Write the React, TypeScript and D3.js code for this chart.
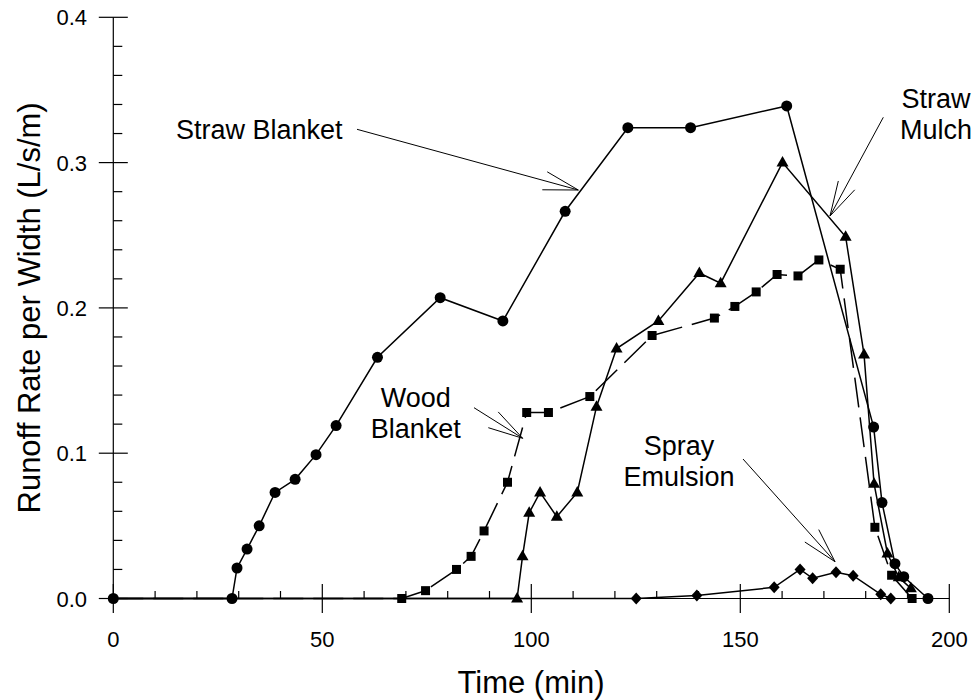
import React from "react";
import * as d3 from "d3";

// ---------- data ----------
const strawBlanketT = [0, 28.4, 29.6, 32, 34.9, 38.7, 43.5, 48.5, 53.3, 63.2, 78.2, 93.2, 108.1, 123.1, 138.1, 161.1, 181.9, 183.9, 187.0, 189.1, 194.9];
const strawBlanketY = [0, 0, 0.021, 0.034, 0.05, 0.073, 0.082, 0.099, 0.119, 0.166, 0.207, 0.191, 0.2665, 0.324, 0.324, 0.339, 0.118, 0.066, 0.024, 0.015, 0];

const strawMulchT = [0, 96.6, 97.9, 99.5, 102.1, 106.1, 111, 115.6, 120.4, 130.4, 140.2, 145.3, 160.1, 175.2, 179.6, 182.0, 185.2, 187.9, 190.8];
const strawMulchY = [0, 0, 0.029, 0.059, 0.073, 0.0563, 0.073, 0.132, 0.172, 0.191, 0.224, 0.217, 0.300, 0.249, 0.168, 0.079, 0.031, 0.0146, 0.007];

const woodBlanketT = [0, 69, 74.7, 82.1, 85.6, 88.7, 94.3, 98.9, 104.1, 114.0, 128.9, 143.8, 148.7, 153.8, 158.8, 163.8, 168.8, 173.9, 182.2, 186.2, 191.1];
const woodBlanketY = [0, 0, 0.0054, 0.020, 0.029, 0.0465, 0.080, 0.128, 0.128, 0.139, 0.181, 0.193, 0.201, 0.211, 0.223, 0.222, 0.233, 0.2266, 0.049, 0.016, 0];

const sprayEmulsionT = [0, 125.1, 139.6, 158.1, 164.3, 167.3, 172.9, 177.0, 183.6, 186.0];
const sprayEmulsionY = [0, 0, 0.002, 0.0077, 0.020, 0.0139, 0.018, 0.0157, 0.0029, 0];

const xMajorTicks = [0, 50, 100, 150, 200];
const yMajorTicks = [0, 0.1, 0.2, 0.3, 0.4];

type Series = { name: string; t: number[]; y: number[]; marker: string; dashed: boolean; hideFirst: boolean };
const seriesList: Series[] = [
  { name: "Spray Emulsion", t: sprayEmulsionT, y: sprayEmulsionY, marker: "diamond", dashed: false, hideFirst: true },
  { name: "Wood Blanket", t: woodBlanketT, y: woodBlanketY, marker: "square", dashed: true, hideFirst: true },
  { name: "Straw Mulch", t: strawMulchT, y: strawMulchY, marker: "triangle", dashed: false, hideFirst: true },
  { name: "Straw Blanket", t: strawBlanketT, y: strawBlanketY, marker: "circle", dashed: false, hideFirst: false },
];

// annotation labels (lines of text) and arrows, pixel layout
const annotations = [
  { lines: ["Straw Blanket"], x: 176, y: 139, anchor: "start", from: [357, 129.3], tip: [578.3, 190] },
  { lines: ["Straw", "Mulch"], x: 936, y: 108.3, anchor: "middle", from: [883.3, 117.3], tip: [830, 216] },
  { lines: ["Wood", "Blanket"], x: 415.8, y: 406.7, anchor: "middle", from: [474, 407.7], tip: [522.7, 438.3] },
  { lines: ["Spray", "Emulsion"], x: 679, y: 455, anchor: "middle", from: [743, 459], tip: [835, 561.7] },
];

const FONT = "'Liberation Sans', Arial, Helvetica, sans-serif";

function markerPath(kind: string): string {
  switch (kind) {
    case "circle":
      return d3.symbol(d3.symbolCircle, 95)()!;
    case "square":
      return "M-4.5,-4.5H4.5V4.5H-4.5Z";
    case "triangle":
      return "M0,-6.5L6,4L-6,4Z";
    case "diamond":
      return "M0,-6L5.5,0L0,6L-5.5,0Z";
    default:
      return "";
  }
}

export default function App() {
  const W = 972, H = 700;
  const x = d3.scaleLinear().domain([0, 200]).range([113.3, 949.3]);
  const y = d3.scaleLinear().domain([0, 0.4]).range([598.5, 17.3]);

  const xMinor = d3.range(0, 201, 10).filter((v) => v % 50 !== 0);
  const yMinor = d3.range(0, 0.401, 0.02).filter((v) => Math.abs(Math.round(v * 10) - v * 10) > 1e-6);

  const line = d3
    .line<[number, number]>()
    .x((d) => x(d[0]))
    .y((d) => y(d[1]));

  return (
    <svg width={W} height={H} style={{ position: "absolute", left: 0, top: 0, background: "#fff" }} fontFamily={FONT}>
      <rect x={0} y={0} width={W} height={H} fill="#fff" />
      {/* axes */}
      <g stroke="#000" strokeWidth={1.2} fill="none">
        <line x1={x(0)} x2={x(200)} y1={y(0)} y2={y(0)} />
        <line x1={x(0)} x2={x(0)} y1={y(0)} y2={y(0.4)} />
        {xMajorTicks.map((v) => (
          <line key={"xm" + v} x1={x(v)} x2={x(v)} y1={y(0) - 14.5} y2={y(0) + 14.5} />
        ))}
        {xMinor.map((v) => (
          <line key={"xn" + v} x1={x(v)} x2={x(v)} y1={y(0)} y2={y(0) - 7.5} />
        ))}
        {yMajorTicks.map((v) => (
          <line key={"ym" + v} x1={x(0) - 14.5} x2={x(0) + 14.5} y1={y(v)} y2={y(v)} />
        ))}
        {yMinor.map((v) => (
          <line key={"yn" + v} x1={x(0)} x2={x(0) + 9} y1={y(v)} y2={y(v)} />
        ))}
      </g>
      {/* tick labels */}
      <g fontSize={22} fill="#000">
        {xMajorTicks.map((v) => (
          <text key={"xl" + v} x={x(v)} y={647} textAnchor="middle">
            {v}
          </text>
        ))}
        {yMajorTicks.map((v) => (
          <text key={"yl" + v} x={87} y={y(v) + 8} textAnchor="end">
            {v.toFixed(1)}
          </text>
        ))}
      </g>
      {/* axis titles */}
      <text x={531} y={693} textAnchor="middle" fontSize={31} fill="#000">
        Time (min)
      </text>
      <text
        transform={`translate(40,${(y(0) + y(0.4)) / 2}) rotate(-90)`}
        textAnchor="middle"
        fontSize={31}
        fill="#000"
      >
        Runoff Rate per Width (L/s/m)
      </text>
      {/* series lines */}
      {seriesList.map((s) => {
        const pts = s.t.map((t, i) => [t, s.y[i]] as [number, number]);
        return (
          <path
            key={"l" + s.name}
            d={line(pts) || ""}
            fill="none"
            stroke="#000"
            strokeWidth={1.5}
            strokeDasharray={s.dashed ? "30,10" : undefined}
          />
        );
      })}
      {/* markers */}
      {seriesList.map((s) => {
        const p = markerPath(s.marker);
        return (
          <g key={"m" + s.name} fill="#000">
            {s.t.map((t, i) =>
              s.hideFirst && i === 0 ? null : (
                <path key={i} d={p} transform={`translate(${x(t)},${y(s.y[i])})`} />
              )
            )}
          </g>
        );
      })}
      {/* annotations */}
      {annotations.map((a) => {
        const [x0, y0] = a.from;
        const [x1, y1] = a.tip;
        const ang = Math.atan2(y1 - y0, x1 - x0);
        const L = 36, spread = (15 * Math.PI) / 180;
        const b1 = [x1 - L * Math.cos(ang - spread), y1 - L * Math.sin(ang - spread)];
        const b2 = [x1 - L * Math.cos(ang + spread), y1 - L * Math.sin(ang + spread)];
        return (
          <g key={"a" + a.lines.join()}>
            <text x={a.x} y={a.y} textAnchor={a.anchor as any} fontSize={27} fill="#000">
              {a.lines.map((ln, i) => (
                <tspan key={i} x={a.x} dy={i === 0 ? 0 : 31}>
                  {ln}
                </tspan>
              ))}
            </text>
            <g stroke="#000" strokeWidth={1} fill="none">
              <line x1={x0} y1={y0} x2={x1} y2={y1} />
              <line x1={b1[0]} y1={b1[1]} x2={x1} y2={y1} />
              <line x1={b2[0]} y1={b2[1]} x2={x1} y2={y1} />
            </g>
          </g>
        );
      })}
    </svg>
  );
}
